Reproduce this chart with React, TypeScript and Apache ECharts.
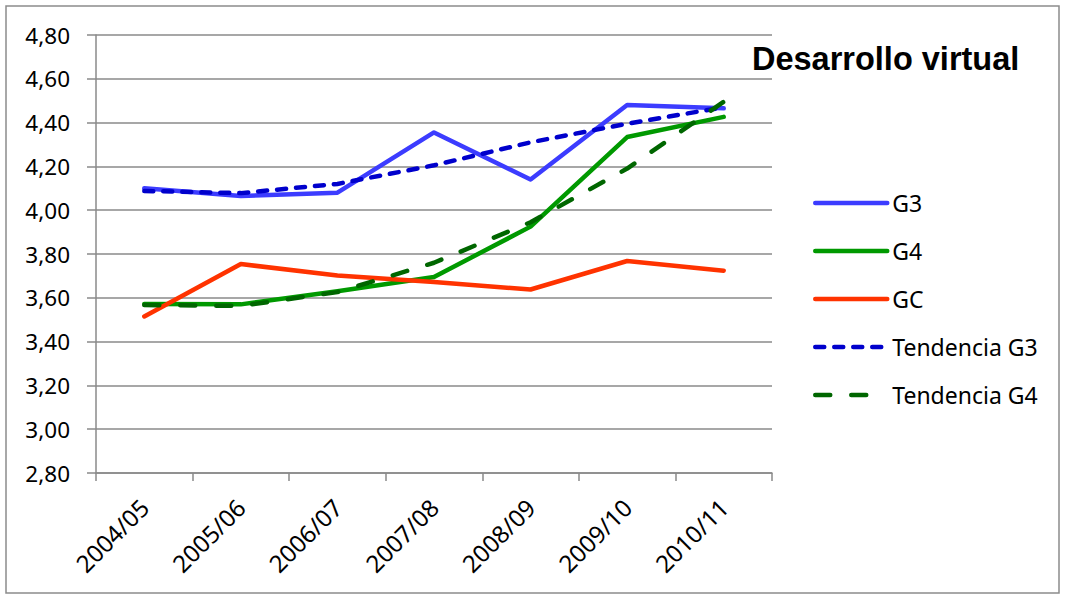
import React, { useEffect, useRef } from "react";
import * as echarts from "echarts";

const categories = ["2004/05", "2005/06", "2006/07", "2007/08", "2008/09", "2009/10", "2010/11"];
const g3 = [4.1, 4.065, 4.08, 4.355, 4.14, 4.48, 4.465];
const g4 = [3.572, 3.57, 3.63, 3.695, 3.925, 4.334, 4.426];
const gc = [3.515, 3.754, 3.702, 3.672, 3.638, 3.768, 3.724];
const trendG3 = [4.088, 4.078, 4.12, 4.205, 4.31, 4.395, 4.47];
const trendG4 = [3.567, 3.563, 3.626, 3.76, 3.945, 4.19, 4.495];
const seriesNames = ["G3", "G4", "GC", "Tendencia G3", "Tendencia G4"];
const titleText = "Desarrollo virtual";
const yMin = 2.8;
const yMax = 4.8;
const yStep = 0.2;

const FONT = "'Noto Sans', sans-serif";
const GRID_COLOR = "#8a8a8a";

export default function App() {
  const ref = useRef<HTMLDivElement>(null);

  useEffect(() => {
    if (!ref.current) return;
    const chart = echarts.init(ref.current, undefined, { renderer: "svg" });

    const solid = (name: string, data: number[], color: string, z: number) => ({
      name,
      type: "line",
      data,
      symbol: "none",
      showSymbol: false,
      z,
      lineStyle: { color, width: 4.5, cap: "round", join: "round" },
      itemStyle: { color },
    });
    const dashed = (name: string, data: number[], color: string, dash: number[], z: number) => ({
      name,
      type: "line",
      data,
      symbol: "none",
      showSymbol: false,
      z,
      lineStyle: { color, width: 4.5, type: dash, cap: "round", join: "round" },
      itemStyle: { color },
    });

    chart.setOption({
      animation: false,
      backgroundColor: "#ffffff",
      title: {
        text: titleText,
        left: 752,
        top: 42,
        padding: 0,
        textStyle: {
          fontFamily: "'Liberation Sans', Arial, sans-serif",
          fontSize: 32.5,
          fontWeight: "bold",
          color: "#000000",
        },
      },
      legend: {
        orient: "vertical",
        left: 813,
        top: 191.5,
        padding: 0,
        itemWidth: 72,
        itemHeight: 14,
        itemGap: 25,
        data: seriesNames,
        itemStyle: { opacity: 0, borderWidth: 0 },
        lineStyle: { width: 4.5, cap: "round" },
        textStyle: { fontFamily: FONT, fontSize: 23, color: "#000000" },
      },
      grid: { left: 96, top: 35, width: 676, height: 438, containLabel: false },
      xAxis: {
        type: "category",
        data: categories,
        boundaryGap: true,
        axisLine: { show: true, lineStyle: { color: GRID_COLOR, width: 1.5 } },
        axisTick: { show: true, length: 8, alignWithLabel: false, lineStyle: { color: GRID_COLOR, width: 1.5 } },
        axisLabel: {
          rotate: 45,
          margin: 30,
          fontFamily: FONT,
          fontSize: 24,
          color: "#000000",
          interval: 0,
        },
      },
      yAxis: {
        type: "value",
        min: yMin,
        max: yMax,
        interval: yStep,
        axisLine: { show: true, lineStyle: { color: GRID_COLOR, width: 1.5 } },
        axisTick: { show: true, length: 9, lineStyle: { color: GRID_COLOR, width: 1.5 } },
        splitLine: { show: true, lineStyle: { color: GRID_COLOR, width: 1.5 } },
        axisLabel: {
          margin: 26,
          fontFamily: FONT,
          fontSize: 22.5,
          color: "#000000",
          formatter: (v: number) => v.toFixed(2).replace(".", ","),
        },
      },
      series: [
        solid(seriesNames[0], g3, "#3c3cff", 2),
        solid(seriesNames[1], g4, "#009900", 3),
        solid(seriesNames[2], gc, "#ff3300", 4),
        dashed(seriesNames[3], trendG3, "#0000cc", [9, 10], 5),
        dashed(seriesNames[4], trendG4, "#006600", [15, 21], 6),
      ],
      graphic: [
        {
          type: "rect",
          shape: { x: 6, y: 6, width: 1053, height: 587 },
          style: { fill: "none", stroke: "#8c8c8c", lineWidth: 1.5 },
          silent: true,
          z: 0,
        },
      ],
    });

    return () => chart.dispose();
  }, []);

  return (
    <div
      ref={ref}
      style={{ position: "fixed", left: 0, top: 0, width: 1065, height: 595, background: "#fff" }}
    />
  );
}
